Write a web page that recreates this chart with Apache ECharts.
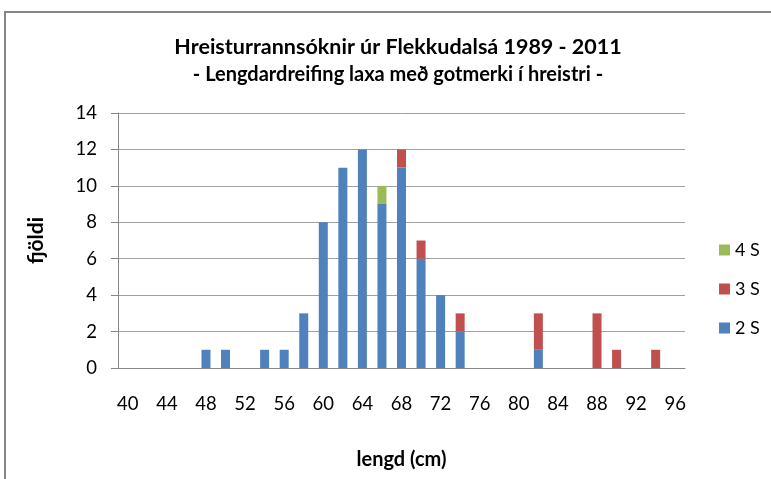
<!DOCTYPE html>
<html>
<head>
<meta charset="utf-8">
<script src="https://cdn.jsdelivr.net/npm/echarts@6/dist/echarts.min.js"></script>
<style>
  html, body { margin: 0; padding: 0; background: #fff; }
  #chart { width: 771px; height: 479px; }
</style>
</head>
<body>
<div id="chart"></div>
<script>
// lengd (cm), 40..96 in steps of 2
const categories = ['40','42','44','46','48','50','52','54','56','58','60','62','64','66','68',
  '70','72','74','76','78','80','82','84','86','88','90','92','94','96'];
const twoS   = [0,0,0,0,1,1,0,1,1,3,8,11,12,9,11,6,4,2,0,0,0,1,0,0,0,0,0,0,0];
const threeS = [0,0,0,0,0,0,0,0,0,0,0,0,0,0,1,1,0,1,0,0,0,2,0,0,3,1,0,1,0];
const fourS  = [0,0,0,0,0,0,0,0,0,0,0,0,0,1,0,0,0,0,0,0,0,0,0,0,0,0,0,0,0];
const seriesNames = ['2 S', '3 S', '4 S'];
const colors = ['#4F81BD', '#C0504D', '#9BBB59'];

const font = 'Lato, "Open Sans", sans-serif';
const chart = echarts.init(document.getElementById('chart'));

const option = {
  backgroundColor: '#fff',
  textStyle: { fontFamily: font, color: '#000' },
  graphic: [{
    type: 'rect',
    shape: { x: 5, y: 12, width: 800, height: 500 },
    style: { fill: 'none', stroke: '#868686', lineWidth: 2 },
    silent: true
  }],
  title: {
    text: 'Hreisturrannsóknir úr Flekkudalsá 1989 - 2011',
    subtext: '- Lengdardreifing laxa með gotmerki í hreistri -',
    left: 393,
    textAlign: 'center',
    top: 31,
    itemGap: 7,
    textStyle: { fontFamily: font, fontSize: 21.5, fontWeight: 'bold', color: '#000' },
    subtextStyle: { fontFamily: font, fontSize: 20, fontWeight: 'bold', color: '#000' }
  },
  legend: {
    orient: 'vertical',
    left: 714,
    top: 236,
    itemWidth: 11,
    itemHeight: 11,
    itemGap: 21,
    icon: 'rect',
    data: ['4 S', '3 S', '2 S'],
    textStyle: { fontFamily: font, fontSize: 18, color: '#000' }
  },
  grid: { left: 118, right: 86, top: 113, bottom: 111 },
  xAxis: {
    type: 'category',
    data: categories,
    name: 'lengd (cm)',
    nameLocation: 'middle',
    nameGap: 82,
    nameTextStyle: { fontFamily: font, fontSize: 20, fontWeight: 'bold', color: '#000' },
    axisLine: { lineStyle: { color: '#868686', width: 1 } },
    axisTick: { show: false },
    axisLabel: { interval: 1, margin: 27, fontSize: 18.5, color: '#000', fontFamily: font }
  },
  yAxis: {
    type: 'value',
    min: 0,
    max: 14,
    interval: 2,
    name: 'fjöldi',
    nameLocation: 'middle',
    nameGap: 71,
    nameRotate: 90,
    nameTextStyle: { fontFamily: font, fontSize: 21, fontWeight: 'bold', color: '#000' },
    axisLine: { show: true, lineStyle: { color: '#868686', width: 1 } },
    axisTick: { show: true, length: 7, lineStyle: { color: '#868686' } },
    axisLabel: { margin: 21, fontSize: 18.5, color: '#000', fontFamily: font },
    splitLine: { lineStyle: { color: '#a0a0a0', width: 1 } }
  },
  series: [twoS, threeS, fourS].map((vals, i) => ({
    name: seriesNames[i],
    type: 'bar',
    stack: 'total',
    barWidth: 9,
    data: vals,
    itemStyle: { color: colors[i] }
  }))
};

chart.setOption(option);
</script>
</body>
</html>
